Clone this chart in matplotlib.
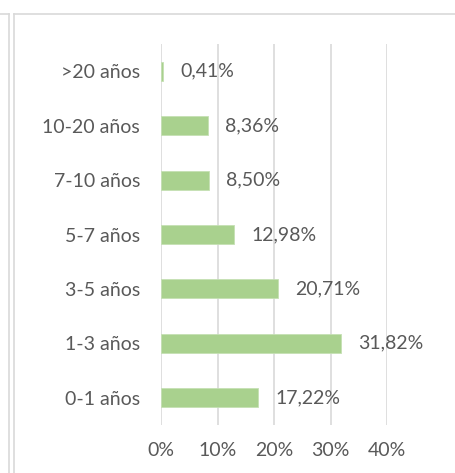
import matplotlib.pyplot as plt
from matplotlib.lines import Line2D

# data, bottom-to-top order as it appears in the chart
categorias = ['0-1 años', '1-3 años', '3-5 años', '5-7 años', '7-10 años', '10-20 años', '>20 años']
porcentajes = [17.22, 31.82, 20.71, 12.98, 8.50, 8.36, 0.41]
ticks_x = [0, 10, 20, 30, 40]

gris = '#595959'
plt.rcParams['font.family'] = ['Lato', 'DejaVu Sans']
fs = 14

fig = plt.figure(figsize=(4.55, 4.73), dpi=100)
ax = fig.add_axes([161 / 455, 48 / 473, 226 / 455, 381 / 473])

y = list(range(len(categorias)))
ax.barh(y, porcentajes, height=0.35, color='#A9D18E', edgecolor='#C5E0B4', linewidth=0.6, zorder=3)

for yi, v in zip(y, porcentajes):
    ax.text(v + 3.0, yi, f'{v:.2f}%'.replace('.', ','), va='center', ha='left',
            fontsize=fs, color=gris, zorder=4)

ax.set_xlim(0, 40)
ax.set_ylim(-0.5, len(categorias) - 0.5)
ax.set_xticks(ticks_x)
ax.set_xticklabels([f'{t}%' for t in ticks_x])
ax.set_yticks(y)
ax.set_yticklabels(categorias)
ax.tick_params(axis='both', length=0, labelsize=fs, labelcolor=gris)
ax.tick_params(axis='y', pad=15)
ax.tick_params(axis='x', pad=12)
ax.grid(axis='x', color='#D9D9D9', linewidth=1.2, zorder=0)
for s in ax.spines.values():
    s.set_visible(False)

# marcos grises del recorte
borde = '#D9D9D9'
fig.add_artist(Line2D([8.5 / 455, 8.5 / 455], [0, 459 / 473], color=borde, lw=1.2, transform=fig.transFigure))
fig.add_artist(Line2D([13.5 / 455, 13.5 / 455], [0, 459 / 473], color=borde, lw=1.2, transform=fig.transFigure))
fig.add_artist(Line2D([0, 8.5 / 455], [459 / 473, 459 / 473], color=borde, lw=1.2, transform=fig.transFigure))
fig.add_artist(Line2D([13.5 / 455, 1], [459 / 473, 459 / 473], color=borde, lw=1.2, transform=fig.transFigure))

fig.savefig('out.png', dpi=100)
